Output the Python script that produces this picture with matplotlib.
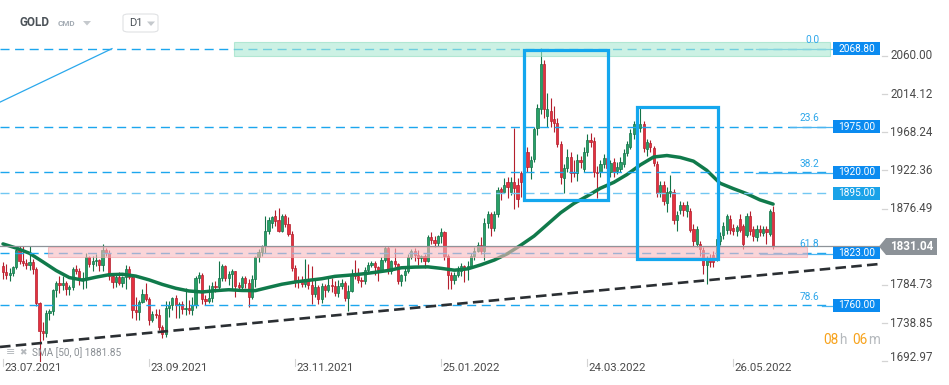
import matplotlib
matplotlib.use("Agg")
import matplotlib.pyplot as plt
import matplotlib.patches as mpatches
import numpy as np

plt.rcParams['font.family'] = ['Roboto', 'DejaVu Sans']

# ------------------------------------------------------------
# data (GOLD, D1, 23.07.2021 .. 13.06.2022)
# ------------------------------------------------------------
opens = [
    1808, 1800, 1797, 1799, 1806, 1827,
    1813, 1811, 1809, 1812, 1804, 1763,
    1729, 1727, 1751, 1753, 1779, 1787, 1785, 1787, 1780,
    1782, 1804, 1802, 1791, 1793, 1818, 1810,
    1813, 1815, 1809, 1827, 1823, 1795, 1788, 1794, 1787, 1794,
    1804, 1794, 1754, 1752, 1764, 1774, 1768, 1743, 1750, 1748, 1734, 1726,
    1757, 1761, 1769, 1760, 1762, 1756, 1757, 1754, 1760, 1793,
    1797, 1768, 1765, 1769, 1783, 1782, 1793, 1807, 1793, 1798, 1801,
    1785,
    1782, 1793, 1787, 1770, 1792, 1818, 1824, 1831, 1849, 1859,
    1868, 1863, 1850, 1867, 1858, 1846, 1805, 1789, 1788, 1786, 1792, 1785,
    1774, 1782, 1768, 1783, 1779, 1785, 1783, 1775, 1783, 1787,
    1769, 1777, 1798, 1796, 1791, 1789, 1803, 1809, 1811, 1806, 1803, 1815,
    1829, 1801, 1814, 1810, 1789, 1797, 1802, 1818, 1826, 1821,
    1817, 1819, 1813, 1842, 1839, 1835, 1843, 1848, 1819, 1797, 1791,
    1797, 1801, 1807, 1804, 1808, 1820, 1826, 1833, 1826, 1859,
    1870, 1853, 1870, 1900, 1897, 1909, 1896, 1909, 1905, 1919,
    1909, 1945, 1927, 1936, 1973, 1996, 2050, 1988, 1994, 1984,
    1979, 1954, 1913, 1925, 1939, 1921, 1919, 1935, 1924, 1945,
    1959, 1958, 1921, 1921, 1930,
    1937, 1921, 1933, 1922, 1924, 1930, 1943, 1951, 1966, 1978,
    1973, 1978, 1948, 1955, 1949, 1930, 1897, 1905, 1883, 1895,
    1897, 1863, 1875, 1881, 1873, 1873, 1852, 1834, 1834, 1827,
    1809, 1816, 1821, 1816, 1838, 1845, 1851, 1864, 1853, 1850, 1864,
    1855, 1845, 1867, 1852, 1842, 1852, 1847, 1852, 1846, 1872,
]
highs = [
    1812, 1810, 1805, 1808, 1832, 1832,
    1831, 1816, 1832, 1816, 1806, 1764,
    1740, 1754, 1756, 1780, 1790, 1795, 1795, 1790, 1785,
    1806, 1809, 1805, 1800, 1823, 1820, 1819,
    1822, 1816, 1834, 1829, 1827, 1797, 1799, 1800, 1796, 1809,
    1808, 1797, 1770, 1767, 1780, 1787, 1770, 1753, 1756, 1756, 1737, 1765,
    1765, 1770, 1772, 1764, 1765, 1781, 1766, 1770, 1796, 1800,
    1799, 1772, 1785, 1788, 1789, 1814, 1810, 1809, 1802, 1804, 1802,
    1788,
    1796, 1795, 1792, 1797, 1819, 1828, 1833, 1868, 1866, 1868,
    1875, 1877, 1870, 1870, 1866, 1849, 1809, 1796, 1796, 1816, 1810, 1808,
    1793, 1785, 1787, 1786, 1793, 1793, 1789, 1791, 1792, 1789,
    1785, 1804, 1815, 1805, 1794, 1806, 1812, 1814, 1813, 1808, 1818, 1831,
    1832, 1815, 1829, 1811, 1798, 1805, 1822, 1828, 1829, 1827,
    1821, 1822, 1845, 1848, 1844, 1845, 1853, 1850, 1822, 1800, 1800,
    1807, 1811, 1809, 1814, 1823, 1830, 1836, 1842, 1865, 1874,
    1872, 1873, 1902, 1903, 1913, 1914, 1914, 1973, 1913, 1922,
    1950, 1950, 1940, 1975, 2002, 2070, 2055, 2016, 2010, 2000,
    1985, 1958, 1930, 1948, 1945, 1935, 1942, 1940, 1950, 1966,
    1967, 1962, 1928, 1935, 1942,
    1940, 1935, 1937, 1932, 1938, 1948, 1958, 1972, 1982, 1985,
    1998, 1982, 1960, 1959, 1952, 1934, 1910, 1910, 1902, 1917,
    1900, 1873, 1885, 1884, 1885, 1877, 1858, 1856, 1838, 1830,
    1820, 1822, 1826, 1845, 1848, 1860, 1870, 1869, 1858, 1857, 1870,
    1858, 1871, 1874, 1856, 1857, 1857, 1856, 1856, 1876, 1879,
]
lows = [
    1792, 1792, 1790, 1795, 1804, 1810,
    1808, 1804, 1803, 1798, 1759, 1677,
    1718, 1722, 1743, 1748, 1770, 1775, 1779, 1773, 1772,
    1779, 1798, 1784, 1780, 1781, 1806, 1802,
    1808, 1802, 1802, 1820, 1791, 1781, 1782, 1785, 1782, 1780,
    1792, 1745, 1742, 1742, 1763, 1765, 1737, 1740, 1745, 1730, 1721, 1722,
    1746, 1754, 1745, 1745, 1750, 1749, 1750, 1748, 1757, 1787,
    1762, 1760, 1763, 1764, 1776, 1778, 1790, 1789, 1784, 1778, 1770,
    1779,
    1780, 1781, 1758, 1768, 1782, 1812, 1820, 1823, 1846, 1853,
    1856, 1848, 1848, 1854, 1844, 1802, 1782, 1781, 1782, 1782, 1780, 1762,
    1770, 1762, 1763, 1770, 1776, 1776, 1771, 1770, 1780, 1765,
    1753, 1776, 1792, 1787, 1782, 1786, 1800, 1806, 1797, 1789, 1800, 1812,
    1798, 1798, 1806, 1786, 1783, 1790, 1799, 1816, 1813, 1809,
    1812, 1805, 1812, 1834, 1830, 1831, 1835, 1815, 1780, 1780, 1786,
    1794, 1795, 1788, 1791, 1805, 1815, 1824, 1822, 1815, 1853,
    1843, 1850, 1866, 1887, 1896, 1889, 1893, 1876, 1878, 1890,
    1900, 1920, 1912, 1932, 1965, 1990, 1985, 1975, 1975, 1968,
    1950, 1906, 1895, 1920, 1908, 1914, 1910, 1925, 1920, 1940,
    1950, 1915, 1889, 1915, 1925,
    1917, 1915, 1915, 1918, 1921, 1926, 1940, 1948, 1960, 1965,
    1968, 1945, 1940, 1945, 1928, 1890, 1890, 1881, 1872, 1890,
    1858, 1850, 1870, 1867, 1866, 1848, 1832, 1830, 1820, 1798,
    1786, 1806, 1806, 1813, 1833, 1840, 1846, 1846, 1845, 1844, 1848,
    1828, 1842, 1845, 1838, 1838, 1843, 1843, 1834, 1844, 1828,
]
closes = [
    1800, 1797, 1799, 1806, 1827, 1813,
    1811, 1809, 1812, 1804, 1763, 1729,
    1727, 1751, 1753, 1779, 1787, 1785, 1787, 1780, 1782,
    1804, 1802, 1791, 1793, 1818, 1810, 1813,
    1815, 1809, 1827, 1823, 1795, 1788, 1794, 1787, 1794, 1804,
    1794, 1754, 1752, 1764, 1774, 1768, 1743, 1750, 1748, 1734, 1726, 1757,
    1761, 1769, 1760, 1762, 1756, 1757, 1754, 1760, 1793, 1797,
    1768, 1765, 1769, 1783, 1782, 1793, 1807, 1793, 1798, 1801, 1783,
    1782,
    1793, 1787, 1770, 1792, 1818, 1824, 1831, 1849, 1863, 1866,
    1861, 1850, 1867, 1858, 1846, 1805, 1789, 1788, 1786, 1792, 1785, 1774,
    1782, 1768, 1783, 1779, 1785, 1783, 1775, 1783, 1787, 1769,
    1777, 1798, 1796, 1791, 1789, 1803, 1809, 1811, 1806, 1803, 1815, 1829,
    1801, 1814, 1810, 1789, 1797, 1802, 1818, 1826, 1821, 1817,
    1819, 1813, 1842, 1839, 1835, 1843, 1848, 1819, 1797, 1791, 1797,
    1801, 1807, 1804, 1808, 1820, 1826, 1833, 1826, 1859, 1870,
    1853, 1870, 1899, 1897, 1905, 1902, 1909, 1901, 1888, 1909,
    1943, 1927, 1935, 1972, 1997, 2050, 1996, 1996, 1982, 1979,
    1954, 1915, 1925, 1939, 1919, 1919, 1935, 1932, 1945, 1959,
    1957, 1921, 1919, 1930, 1937,
    1925, 1931, 1921, 1927, 1933, 1943, 1954, 1967, 1978, 1972,
    1978, 1949, 1957, 1951, 1931, 1895, 1905, 1885, 1897, 1898,
    1863, 1869, 1881, 1875, 1881, 1851, 1837, 1852, 1828, 1809,
    1816, 1812, 1812, 1840, 1843, 1855, 1867, 1851, 1850, 1854, 1851,
    1834, 1867, 1849, 1843, 1852, 1848, 1852, 1848, 1873, 1831,
]

# SMA(50) as drawn, sampled every 4th candle
SMA_STEP = 4
sma50 = [
    1834, 1829, 1822.7, 1812.5, 1802, 1793.5, 1790.5, 1794, 1797, 1797.5,
    1795.3, 1790.8, 1785.3, 1780.7, 1777.4, 1776.2, 1777.8, 1778.9, 1778, 1777.8,
    1781.7, 1785.5, 1788.2, 1790.2, 1792.1, 1795, 1796.3, 1797.8, 1799.8, 1802,
    1805.3, 1806.1, 1806.4, 1804.6, 1802.4, 1804, 1808.9, 1814.6, 1822.3, 1832.5,
    1843.5, 1857.5, 1871.5, 1882.7, 1891.5, 1901, 1908, 1917.5, 1929, 1938.5,
    1940.3, 1938, 1933.5, 1922.5, 1907, 1900.5, 1894.5, 1887, 1881.85,
]

date_labels = ["23.07.2021", "23.09.2021", "23.11.2021",
               "25.01.2022", "24.03.2022", "26.05.2022"]
LABEL_EVERY = 44

price_ticks = [2060.00, 2014.12, 1968.24, 1922.36, 1876.49, 1784.73, 1738.85, 1692.97]

levels = [2068.80, 1975.00, 1920.00, 1895.00, 1823.00, 1760.00]
fib_names = ["0.0", "23.6", "38.2", "61.8", "78.6"]
fib_levels = [2068.8, 1975.0, 1920.0, 1823.0, 1760.0]

last_price = 1831.04
sma_last = 1881.85

# ------------------------------------------------------------
# figure / axes in pixel terms
# ------------------------------------------------------------
W, H = 949, 385
AX_R, AX_B = 880, 362
fig = plt.figure(figsize=(W / 100, H / 100), dpi=100)
ax = fig.add_axes([0, 1 - AX_B / H, AX_R / W, AX_B / H])
ax.set_xlim(-0.9, 264.2)
ax.set_ylim(1692.0, 2127.3)
ax.axis('off')


def fx(px):
    return px / W


def fy(py):
    return 1 - py / H


def axx(px):
    return px / AX_R


def px_to_i(px):
    return -0.9 + px / AX_R * (264.2 + 0.9)


# candles
o = np.array(opens, float)
h = np.array(highs, float)
l = np.array(lows, float)
c = np.array(closes, float)
idx = np.arange(len(c))
up = c >= o
face = np.where(up, '#27a066', '#e5303f')
edge = np.where(up, '#127348', '#b31f2d')

ax.vlines(idx, l, h, colors=edge, lw=0.8, zorder=2)
ax.bar(idx, np.maximum(np.abs(c - o), 0.9), bottom=np.minimum(o, c), width=0.66,
       color=face, edgecolor=edge, linewidth=0.5, zorder=3)

# SMA 50
sma_x = np.arange(0, len(c), SMA_STEP)
ax.plot(sma_x, sma50, color='#107a4b', lw=2.5, solid_capstyle='round',
        solid_joinstyle='round', zorder=4)

# zones
ax.add_patch(mpatches.Rectangle((px_to_i(234), 2059.5), px_to_i(830) - px_to_i(234), 17.0,
                                facecolor=(170 / 255, 233 / 255, 210 / 255), alpha=0.6,
                                edgecolor='#8fdcbf', lw=0.8, zorder=6))
ax.add_patch(mpatches.Rectangle((px_to_i(48), 1818.3), px_to_i(807) - px_to_i(48), 12.0,
                                facecolor=(248 / 255, 185 / 255, 190 / 255), alpha=0.6,
                                edgecolor='#f2a0a6', lw=0.8, zorder=6))

# level lines
for lv in levels:
    col = '#72c7f2' if lv == 1895.00 else '#1ca6ee'
    ax.axhline(lv, xmin=0, xmax=axx(831), color=col, lw=1.0,
               linestyle=(0, (6.5, 4.0)), zorder=5)

# current price line
ax.axhline(last_price, color='#8d9399', lw=0.9, zorder=5)

# fib short lines + labels
fib_start = [756, 790, 756, 760, 822]
for name, lv, st in zip(fib_names, fib_levels, fib_start):
    ax.plot([px_to_i(st), px_to_i(832)], [lv - 1.0, lv - 1.0], color='#4cb5f0', lw=0.9, zorder=5)
    ax.annotate(name, (px_to_i(819), lv), xytext=(0, 6.3), textcoords='offset points',
                ha='right', va='center', fontsize=7.3, color='#2ea7ea', zorder=7)

# thin line top-left
ax.plot([-0.9, px_to_i(112)], [2004.5, 2068.8], color='#2aa8ec', lw=0.9, zorder=5)

# trend line
ax.plot([-0.9, 264.2], [1710.1, 1809.9], color='#2b2f33', lw=1.9,
        linestyle=(0, (4, 2)), zorder=5)

# analysis boxes
ax.add_patch(mpatches.Rectangle((px_to_i(524), 1886.8), px_to_i(608) - px_to_i(524), 2067.2 - 1886.8,
                                fill=False, edgecolor='#14a7ee', lw=2.3, zorder=7))
ax.add_patch(mpatches.Rectangle((px_to_i(637), 1815.9), px_to_i(718) - px_to_i(637), 1998.7 - 1815.9,
                                fill=False, edgecolor='#14a7ee', lw=2.3, zorder=7))

# price boxes on the right
ytr = ax.get_yaxis_transform()
for lv in levels:
    col = '#1aa2e8' if lv == 1895.00 else '#0b8bf0'
    ax.add_patch(mpatches.Rectangle((axx(833), lv - 7.6), axx(880) - axx(833), 15.2,
                                    transform=ytr, facecolor=col, edgecolor='none',
                                    zorder=8, clip_on=False))
    ax.text(axx(856.5), lv, f"{lv:.2f}", transform=ytr, ha='center', va='center',
            fontsize=7.3, color='white', zorder=9, clip_on=False)

# right axis labels + tick marks
for v in price_ticks:
    yv = v + 4.5 if v == price_ticks[-1] else v
    ax.text(1 + 10 / AX_R, yv, f"{v:.2f}", transform=ytr, ha='left', va='center',
            fontsize=8.4, color='#4a4a4a', clip_on=False)
    ax.plot([1 + 2 / AX_R, 1 + 7 / AX_R], [v, v], transform=ytr, color='#d4d4d4',
            lw=0.9, clip_on=False)

# current price tag
tag = [(879, 246.5), (886, 238), (937, 238), (937, 255), (886, 255)]
fig.add_artist(mpatches.Polygon([(fx(a), fy(b)) for a, b in tag], closed=True,
                                transform=fig.transFigure, facecolor='#8c9298',
                                edgecolor='none'))
fig.text(fx(911.5), fy(246.5), f"{last_price:.2f}", ha='center', va='center',
         fontsize=8.4, fontweight='bold', color='white')

# date labels
xtr = ax.get_xaxis_transform()
for k, lab in enumerate(date_labels):
    xi = k * LABEL_EVERY
    ax.text(xi + 0.35, -0.002, lab, transform=xtr, ha='left', va='top',
            fontsize=8.2, color='#4a4a4a', clip_on=False)
    ax.plot([xi, xi], [0.008, -0.01], transform=xtr, color='#d4d4d4', lw=0.8, clip_on=False)

# header
fig.text(fx(20), fy(23), "GOLD", fontsize=8.5, fontweight='bold', color='#4b5258', va='center')
fig.text(fx(58), fy(24), "CMD", fontsize=5.8, fontweight='bold', color='#a3abb3', va='center')
fig.add_artist(mpatches.Polygon([(fx(83), fy(21)), (fx(91), fy(21)), (fx(87), fy(25.5))],
                                closed=True, transform=fig.transFigure,
                                facecolor='#c5c9cd', edgecolor='none'))
fig.add_artist(mpatches.FancyBboxPatch((fx(123), fy(32)), fx(35), 18 / H,
                                       boxstyle='round,pad=0,rounding_size=0.006',
                                       transform=fig.transFigure, facecolor='white',
                                       edgecolor='#e0e2e4', lw=0.8))
fig.text(fx(129), fy(23.5), "D1", fontsize=8, color='#4b5258', va='center')
fig.add_artist(mpatches.Polygon([(fx(147), fy(21.5)), (fx(155), fy(21.5)), (fx(151), fy(26))],
                                closed=True, transform=fig.transFigure,
                                facecolor='#c5c9cd', edgecolor='none'))

# SMA legend
fig.text(fx(6), fy(352.5), "≡", fontsize=8, color='#b5b9bd', va='center',
         family=['DejaVu Sans'])
fig.text(fx(19), fy(352.5), "✖", fontsize=6.5, color='#b5b9bd', va='center',
         family=['DejaVu Sans'])
fig.text(fx(32), fy(352.7), f"SMA [50, 0] {sma_last:.2f}", fontsize=7.2,
         color='#8a8f94', va='center')

# candle countdown
fig.text(fx(823), fy(340), "08", fontsize=9.8, color='#f7a21b', va='center')
fig.text(fx(839), fy(340), "h", fontsize=9.8, color='#b5b9bd', va='center')
fig.text(fx(852), fy(340), "06", fontsize=9.8, color='#f7a21b', va='center')
fig.text(fx(868), fy(340), "m", fontsize=9.8, color='#b5b9bd', va='center')

fig.savefig("out.png", dpi=100)
